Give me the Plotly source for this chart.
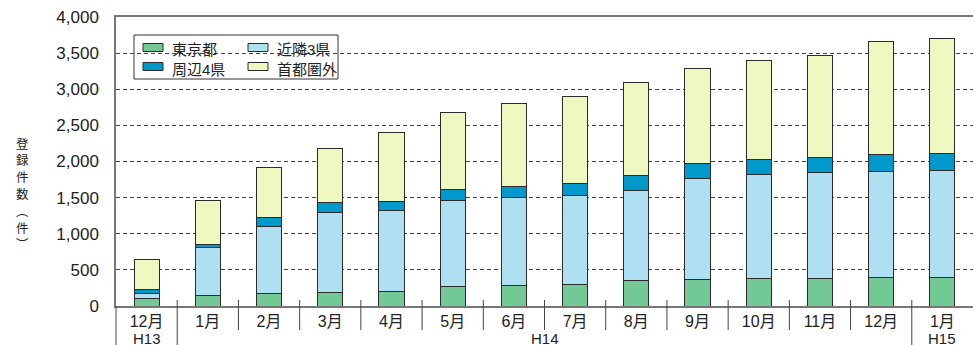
import plotly.graph_objects as go

# 登録件数の推移（地域別・累計）
months = ["12月", "1月", "2月", "3月", "4月", "5月", "6月", "7月",
          "8月", "9月", "10月", "11月", "12月", "1月"]
# 年度ラベル: (ラベル, 最初の月の位置, 最後の月の位置)
periods = [("H13", 0, 0), ("H14", 1, 12), ("H15", 13, 13)]

tokyo = [107, 149, 171, 185, 199, 264, 282, 292, 351, 371, 385, 385, 389, 393]
kinrin = [69, 661, 931, 1111, 1120, 1199, 1214, 1236, 1246, 1393, 1439, 1467, 1477, 1482]
shuhen = [46, 47, 120, 130, 130, 152, 157, 166, 204, 204, 208, 208, 231, 236]
shutoken_gai = [417, 606, 699, 759, 958, 1070, 1153, 1199, 1292, 1319, 1361, 1408, 1560, 1593]

y_ticks = [0, 500, 1000, 1500, 2000, 2500, 3000, 3500, 4000]
y_title = "登録件数︵件︶"

FONT = "Liberation Sans, Arial, Noto Sans CJK JP, sans-serif"
OUTLINE = dict(color="#2b2b2b", width=1)

series = [
    ("東京都", tokyo, "#72C996"),
    ("近隣3県", kinrin, "#AEE0F2"),
    ("周辺4県", shuhen, "#0099CC"),
    ("首都圏外", shutoken_gai, "#F0F8C2"),
]

x_idx = list(range(len(months)))
n = len(months)

fig = go.Figure()
for name, vals, color in series:
    fig.add_trace(go.Bar(
        x=x_idx, y=vals, name=name,
        marker=dict(color=color, line=OUTLINE),
        width=0.41, showlegend=False,
    ))

# plot-area geometry (pixels) used to place the frame elements in paper units
L, R, T, B = 116, 973, 17, 306


def px(xp):
    return (xp - L) / (R - L)


def py(yp):
    return (B - yp) / (B - T)


shapes = []
annotations = []

# category dividers below the axis (longer at the fiscal-year breaks)
breaks = {0} | {p[1] for p in periods[1:]}
for k in range(n):
    shapes.append(dict(
        type="line", xref="paper", yref="paper",
        x0=k / n, x1=k / n, y0=py(300) if k else 0,
        y1=py(345) if k in breaks else py(330),
        line=dict(color="#444", width=1),
    ))

# fiscal-year labels under the month labels
for label, first, last in periods:
    annotations.append(dict(
        text=label, x=(first + last) / 2, xref="x", y=py(338), yref="paper",
        showarrow=False, font=dict(size=15), yanchor="middle", borderpad=0,
    ))

# legend box: 2 columns x 2 rows, white background hiding the grid
shapes.append(dict(
    type="rect", xref="paper", yref="paper", layer="between",
    x0=px(134), x1=px(338), y0=py(79), y1=py(35),
    line=dict(color="#333", width=1), fillcolor="white",
))
col_x = [143, 248]
row_y = [47.5, 66.5]
for i, (name, _, color) in enumerate(series):
    cx, ry = col_x[i % 2], row_y[i // 2]
    shapes.append(dict(
        type="rect", xref="paper", yref="paper",
        x0=px(cx), x1=px(cx + 20), y0=py(ry + 4), y1=py(ry - 4),
        line=dict(color="#2b2b2b", width=1), fillcolor=color,
    ))
    annotations.append(dict(
        text=name, x=px(cx + 27), xref="paper", y=py(ry + 2.5), yref="paper",
        xanchor="left", yanchor="middle", showarrow=False,
        font=dict(size=15),
    ))

# vertical axis title, one character per line
for j, ch in enumerate(y_title):
    annotations.append(dict(
        text=ch, x=px(22), xref="paper", y=py(143 + j * 16.8), yref="paper",
        showarrow=False, font=dict(size=12.5, family="Noto Sans CJK JP"),
        xanchor="center", yanchor="middle", borderpad=0,
    ))

fig.update_layout(
    width=974, height=345,
    margin=dict(l=L, r=974 - R, t=T, b=345 - B),
    barmode="stack",
    plot_bgcolor="white", paper_bgcolor="white",
    font=dict(family=FONT, size=16, color="#222"),
    showlegend=False,
    shapes=shapes,
    annotations=annotations,
    xaxis=dict(
        tickmode="array", tickvals=x_idx, ticktext=months,
        range=[-0.5, n - 0.5],
        showline=True, linecolor="#777", linewidth=1.5, mirror=True,
        ticks="", showgrid=False, zeroline=False,
        tickfont=dict(size=16), ticklabelstandoff=0,
    ),
    yaxis=dict(
        range=[0, 4000], tickvals=y_ticks,
        tickformat=",d",
        showline=True, linecolor="#777", linewidth=1.5,
        showgrid=True, gridcolor="#444", gridwidth=1, griddash="4px,3px",
        zeroline=False, ticks="", ticklabelstandoff=12,
        tickfont=dict(size=17),
    ),
)

fig.write_html("out.html")
